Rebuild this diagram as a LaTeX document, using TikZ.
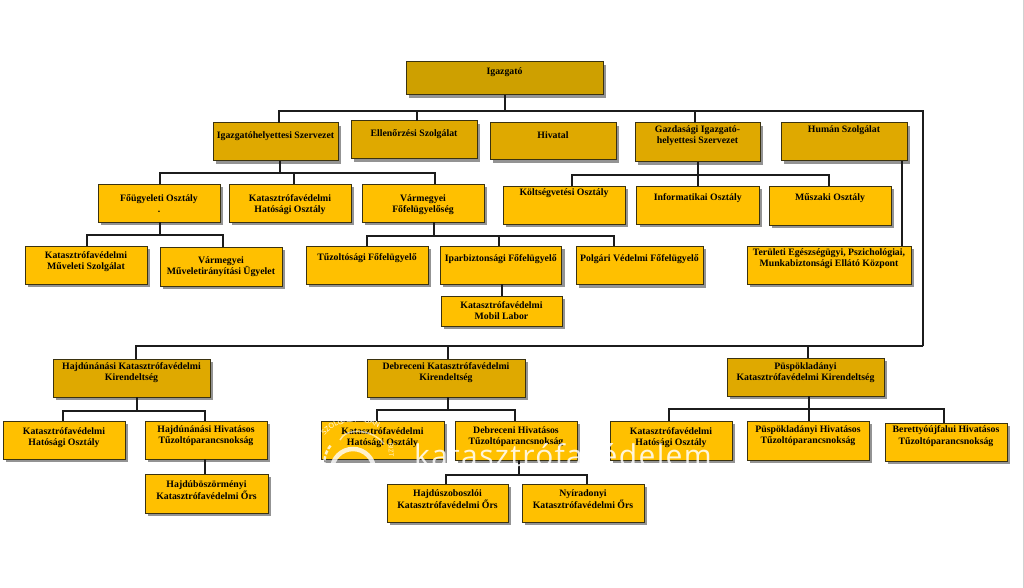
\documentclass[tikz,border=0pt]{standalone}
\usepackage{fontspec}
\setmainfont{Liberation Serif}
\newfontfamily\wmfont[LetterSpace=4.5]{Open Sans}
\newfontfamily\wmsmall{Open Sans}
\usetikzlibrary{shadows,decorations.text}
\definecolor{leaf}{HTML}{FFC000}
\definecolor{midb}{HTML}{DFA900}
\definecolor{topb}{HTML}{CEA000}
\definecolor{edge}{HTML}{3A3210}
\definecolor{shade}{HTML}{939393}
\definecolor{wire}{HTML}{1C1C1C}
\tikzset{
  orgbase/.style={draw=edge,line width=1pt,inner sep=0pt,outer sep=0pt,text=black,
    font=\fontsize{9.8}{11.2}\selectfont\bfseries,
    drop shadow={shadow xshift=3pt,shadow yshift=-3pt,fill=shade,opacity=1}},
  leafbox/.style={orgbase,fill=leaf},
  midbox/.style={orgbase,fill=midb},
  topbox/.style={orgbase,fill=topb},
  conn/.style={draw=wire,line width=2pt,line join=miter},
  thinconn/.style={draw=wire,line width=1.5pt},
  wmark/.style={text=white,text opacity=0.85}
}
\newcommand{\orgbox}[8]{%
  \pgfmathsetmacro{\bcx}{(#3+#5)/2}%
  \pgfmathsetmacro{\bcy}{(#4+#6)/2}%
  \pgfmathsetmacro{\bbw}{#5-#3}%
  \pgfmathsetmacro{\bbh}{#6-#4}%
  \pgfmathsetmacro{\brs}{\bcy-#7-2.4}%
  \node[#1,minimum width=\bbw pt,minimum height=\bbh pt] (#2) at (\bcx,\bcy)
    {\raisebox{\brs pt}[0pt][0pt]{\begin{tabular}[c]{@{}c@{}}#8\end{tabular}}};%
}
\begin{document}
\begin{tikzpicture}[x=1pt,y=-1pt]
\useasboundingbox (0,0) rectangle (1024,588);
\fill[white] (0,0) rectangle (1024,588);
\fill[black!18] (1022.6,0) rectangle (1024,588);

% connectors first
\coordinate (busTop) at (505,111);
\coordinate (busKir) at (923,346);
\coordinate (busHel) at (280,173);
\coordinate (busFo) at (160,235);
\coordinate (busVar) at (434,236);
\coordinate (busGaz) at (698,175);
\coordinate (busHajd) at (137,411);
\coordinate (busDeb) at (448,410);
\coordinate (busDebHiv) at (519,475);
\coordinate (busPusp) at (809,409);

% boxes
\orgbox{topbox}{igazgato}{406}{62}{603}{95}{72}{Igazgató}
\orgbox{midbox}{helyettes}{213}{123}{338}{161}{136}{Igazgatóhelyettesi Szervezet}
\orgbox{midbox}{ellenor}{351}{121}{477}{159}{134}{Ellenőrzési Szolgálat}
\orgbox{midbox}{hivatal}{490}{123}{616}{160}{136}{Hivatal}
\orgbox{midbox}{gazdasagi}{635}{123}{760}{162}{136}{Gazdasági Igazgató-\\helyettesi Szervezet}
\orgbox{midbox}{human}{781}{123}{907}{161}{130}{Humán Szolgálat}

\orgbox{leafbox}{fougyeleti}{98}{184}{220}{222}{205}{Főügyeleti Osztály\\.}
\orgbox{leafbox}{hatosagi}{229}{184}{351}{222}{205}{Katasztrófavédelmi\\Hatósági Osztály}
\orgbox{leafbox}{varmegyei}{362}{184}{484}{222}{205}{Vármegyei\\Főfelügyelőség}
\orgbox{leafbox}{koltseg}{503}{186}{625}{224}{193}{Költségvetési Osztály}
\orgbox{leafbox}{informatikai}{636.5}{186}{759}{224}{198}{Informatikai Osztály}
\orgbox{leafbox}{muszaki}{769}{186}{891}{225}{198}{Műszaki Osztály}

\orgbox{leafbox}{muveleti}{25}{246}{147}{284}{262}{Katasztrófavédelmi\\Műveleti Szolgálat}
\orgbox{leafbox}{ugyelet}{160}{247}{282}{286}{267}{Vármegyei\\Műveletirányítási Ügyelet}
\orgbox{leafbox}{tuzolto}{306}{246}{428}{284}{258}{Tűzoltósági Főfelügyelő}
\orgbox{leafbox}{ipar}{440}{246}{561.5}{284}{259}{Iparbiztonsági Főfelügyelő}
\orgbox{leafbox}{polgari}{576}{246}{703}{284.5}{259}{Polgári Védelmi Főfelügyelő}
\orgbox{leafbox}{teruleti}{747}{246}{911}{284}{259}{Területi Egészségügyi, Pszichológiai,\\Munkabiztonsági Ellátó Központ}
\orgbox{leafbox}{mobil}{441}{296}{562}{326}{311.7}{Katasztrófavédelmi\\Mobil Labor}

\orgbox{midbox}{hajdKir}{53}{359}{210}{397}{373}{Hajdúnánási Katasztrófavédelmi\\Kirendeltség}
\orgbox{midbox}{debKir}{367}{359}{525}{397}{373}{Debreceni Katasztrófavédelmi\\Kirendeltség}
\orgbox{midbox}{puspKir}{727}{358}{884}{396}{373}{Püspökladányi\\Katasztrófavédelmi Kirendeltség}

\orgbox{leafbox}{hajdHat}{3}{421}{125}{459}{438}{Katasztrófavédelmi\\Hatósági Osztály}
\orgbox{leafbox}{hajdHiv}{145}{421}{267}{459}{436}{Hajdúnánási Hivatásos\\Tűzoltóparancsnokság}
\orgbox{leafbox}{boszorm}{145}{474}{268}{513}{491}{Hajdúböszörményi\\Katasztrófavédelmi Őrs}
\orgbox{leafbox}{debHat}{321}{421}{444}{459.5}{438}{Katasztrófavédelmi\\Hatósági Osztály}
\orgbox{leafbox}{debHiv}{455}{421}{577}{460}{436.7}{Debreceni Hivatásos\\Tűzoltóparancsnokság}
\orgbox{leafbox}{szoboszlo}{387}{484}{508}{522}{500.7}{Hajdúszoboszlói\\Katasztrófavédelmi Őrs}
\orgbox{leafbox}{nyiradony}{522}{484}{644}{522}{500.7}{Nyíradonyi\\Katasztrófavédelmi Őrs}
\orgbox{leafbox}{puspHat}{610}{421}{732}{460}{438}{Katasztrófavédelmi\\Hatósági Osztály}
\orgbox{leafbox}{puspHiv}{747}{421}{869}{460}{436}{Püspökladányi Hivatásos\\Tűzoltóparancsnokság}
\orgbox{leafbox}{berettyo}{885}{423}{1007}{461}{436.3}{Berettyóújfalui Hivatásos\\Tűzoltóparancsnokság}

% top level
\draw[conn] (igazgato.south -| busTop) -- (busTop);
\draw[conn] (busTop) -| (279,0 |- helyettes.north);
\draw[conn] (busTop) -| (417,0 |- ellenor.north);
\draw[conn] (busTop) -| (695,0 |- gazdasagi.north);
\draw[conn] (busTop) -| (busKir);
\draw[conn] (busKir) -| (136,0 |- hajdKir.north);
\draw[conn] (busKir) -| (448,0 |- debKir.north);
\draw[conn] (busKir) -| (808,0 |- puspKir.north);
% deputy
\draw[conn] (helyettes.south -| busHel) -- (busHel);
\draw[conn] (busHel) -| (160,0 |- fougyeleti.north);
\draw[conn] (busHel) -| (294,0 |- hatosagi.north);
\draw[conn] (busHel) -| (435,0 |- varmegyei.north);
\draw[conn] (fougyeleti.south -| busFo) -- (busFo);
\draw[conn] (busFo) -| (87,0 |- muveleti.north);
\draw[conn] (busFo) -| (223,0 |- ugyelet.north);
\draw[conn] (varmegyei.south -| busVar) -- (busVar);
\draw[conn] (busVar) -| (367,0 |- tuzolto.north);
\draw[conn] (busVar) -| (499,0 |- ipar.north);
\draw[conn] (busVar) -| (614,0 |- polgari.north);
\draw[conn] (502,0 |- ipar.south) -- (502,0 |- mobil.north);
% economic
\draw[conn] (gazdasagi.south -| busGaz) -- (busGaz);
\draw[conn] (busGaz) -| (572,0 |- koltseg.north);
\draw[conn] (busGaz) -- (busGaz |- informatikai.north);
\draw[conn] (busGaz) -| (829,0 |- muszaki.north);
\draw[thinconn] (902,0 |- human.south) -- (902,0 |- teruleti.north);
% Hajdunanas
\draw[conn] (hajdKir.south -| busHajd) -- (busHajd);
\draw[conn] (busHajd) -| (63,0 |- hajdHat.north);
\draw[conn] (busHajd) -| (205,0 |- hajdHiv.north);
\draw[conn] (205,0 |- hajdHiv.south) -- (205,0 |- boszorm.north);
% Debrecen
\draw[conn] (debKir.south -| busDeb) -- (busDeb);
\draw[conn] (busDeb) -| (377,0 |- debHat.north);
\draw[conn] (busDeb) -| (515,0 |- debHiv.north);
\draw[conn] (debHiv.south -| busDebHiv) -- (busDebHiv);
\draw[conn] (busDebHiv) -| (446,0 |- szoboszlo.north);
\draw[conn] (busDebHiv) -| (587,0 |- nyiradony.north);
% Puspokladany
\draw[conn] (puspKir.south -| busPusp) -- (busPusp);
\draw[conn] (busPusp) -| (669,0 |- puspHat.north);
\draw[conn] (busPusp) -- (busPusp |- puspHiv.north);
\draw[conn] (busPusp) -| (944,0 |- berettyo.north);

% watermark
\node[wmark,anchor=base west,inner sep=0pt,font=\wmfont\fontsize{30}{30}\selectfont] (wmtext) at (414,466) {katasztrófavédelem};
\path[postaction={decorate},decoration={text along path,text align=center,
  text={|\wmsmall\fontsize{7.2}{7.2}\selectfont\color{white}|SZOLGÁLATÁBAN}}]
  (321,441) .. controls (332,421) and (362,415) .. (384,431);
\node[wmark,rotate=-85,inner sep=0pt,font=\wmsmall\fontsize{6.5}{6.5}\selectfont] (wmbizt) at (391,450) {BIZT};
\draw[white,opacity=0.6,line width=1.5pt] (340,440) .. controls (345,428) and (372,428) .. (384,444);
\draw[white,opacity=0.8,line width=4.5pt] (353,470) circle[radius=21pt];
\draw[white,opacity=0.8,line width=2.5pt,dash pattern=on 4pt off 2pt] (326,472) arc[start angle=200,end angle=140,radius=27pt];
\end{tikzpicture}
\end{document}
